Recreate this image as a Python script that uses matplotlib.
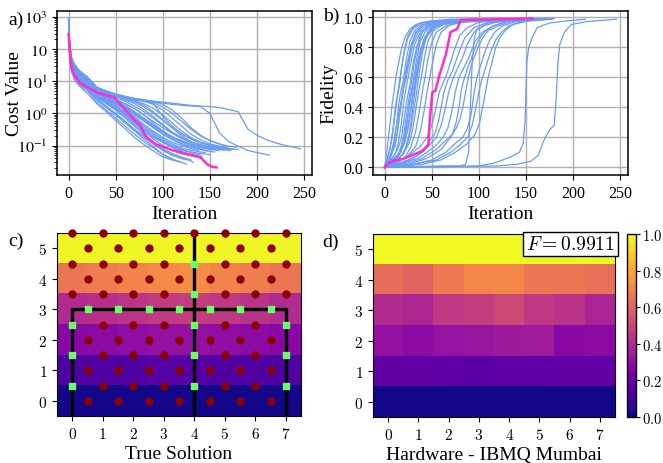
import numpy as np
import matplotlib
matplotlib.use("Agg")
import matplotlib.pyplot as plt

plt.rcParams['font.family'] = ['Liberation Serif', 'DejaVu Serif']
plt.rcParams['mathtext.fontset'] = 'stix'

# ---------------- a) / b) : optimisation runs ----------------
cost_grid = [0, 1, 3, 6, 10, 15, 20, 30, 40, 50, 60, 70, 80, 90, 100, 110,
             120, 130, 140, 150, 160, 170, 180, 190, 200, 210, 220, 230, 240]

run_end = [118, 112, 125, 130, 122, 135, 140, 128, 145, 150, 138, 155, 160, 165,
           148, 170, 158, 172, 162, 175, 152, 168, 172, 178, 165, 180, 213, 246,
           132, 142, 156]

# log10(cost) at cost_grid points below the run end, last value = at run end
cost_log = [
    [2.88, 1.85, 1.35, 1.12, 0.95, 0.8, 0.7, 0.35, 0.1, -0.15, -0.4, -0.65, -0.88, -1.08, -1.27, -1.42, -1.5],
    [2.92, 1.8, 1.3, 1.05, 0.9, 0.75, 0.62, 0.3, 0.05, -0.22, -0.48, -0.75, -0.97, -1.17, -1.35, -1.45, -1.47],
    [2.9, 1.9, 1.4, 1.15, 0.98, 0.85, 0.74, 0.42, 0.18, -0.06, -0.3, -0.55, -0.8, -1.04, -1.28, -1.44, -1.53, -1.58],
    [2.85, 1.95, 1.45, 1.2, 1.02, 0.9, 0.8, 0.5, 0.3, 0.1, -0.15, -0.4, -0.65, -0.9, -1.1, -1.25, -1.36, -1.45],
    [2.9, 1.88, 1.38, 1.15, 1.0, 0.86, 0.76, 0.42, 0.22, 0.0, -0.25, -0.5, -0.7, -0.95, -1.15, -1.3, -1.4, -1.42],
    [2.93, 2.0, 1.5, 1.25, 1.08, 0.95, 0.85, 0.55, 0.35, 0.15, -0.05, -0.3, -0.55, -0.8, -1.0, -1.15, -1.25, -1.32, -1.35],
    [2.88, 1.92, 1.42, 1.2, 1.04, 0.92, 0.83, 0.5, 0.32, 0.12, -0.1, -0.35, -0.6, -0.75, -0.9, -1.05, -1.15, -1.22, -1.3],
    [2.9, 2.0, 1.5, 1.28, 1.1, 0.97, 0.87, 0.55, 0.38, 0.2, 0.0, -0.25, -0.5, -0.7, -0.88, -1.05, -1.2, -1.28],
    [2.95, 2.05, 1.55, 1.3, 1.12, 1.0, 0.9, 0.6, 0.42, 0.25, 0.05, -0.15, -0.4, -0.6, -0.8, -0.95, -1.08, -1.15, -1.2, -1.22],
    [2.9, 1.98, 1.48, 1.24, 1.08, 0.96, 0.86, 0.58, 0.4, 0.22, 0.02, -0.2, -0.45, -0.65, -0.85, -1.0, -1.12, -1.2, -1.25, -1.28],
    [2.92, 2.02, 1.52, 1.3, 1.14, 1.02, 0.92, 0.62, 0.45, 0.3, 0.12, -0.1, -0.35, -0.55, -0.75, -0.9, -1.0, -1.1, -1.15],
    [2.88, 2.0, 1.5, 1.28, 1.12, 1.0, 0.9, 0.6, 0.45, 0.3, 0.15, -0.05, -0.25, -0.45, -0.65, -0.82, -0.95, -1.05, -1.12, -1.18, -1.2],
    [2.94, 2.06, 1.56, 1.33, 1.16, 1.04, 0.94, 0.65, 0.5, 0.35, 0.2, 0.0, -0.2, -0.42, -0.6, -0.75, -0.88, -0.98, -1.05, -1.1, -1.15],
    [2.9, 2.03, 1.53, 1.3, 1.15, 1.03, 0.93, 0.63, 0.48, 0.35, 0.22, 0.05, -0.15, -0.35, -0.55, -0.72, -0.85, -0.95, -1.02, -1.08, -1.12, -1.15],
    [2.9, 2.08, 1.58, 1.36, 1.2, 1.08, 0.97, 0.68, 0.52, 0.4, 0.25, 0.05, -0.18, -0.4, -0.62, -0.8, -0.95, -1.05, -1.12, -1.18],
    [2.95, 2.1, 1.6, 1.38, 1.22, 1.1, 1.0, 0.7, 0.55, 0.42, 0.3, 0.15, -0.05, -0.25, -0.45, -0.62, -0.78, -0.9, -0.98, -1.05, -1.1, -1.12],
    [2.9, 2.1, 1.62, 1.4, 1.24, 1.1, 1.0, 0.7, 0.58, 0.45, 0.3, 0.15, -0.05, -0.3, -0.55, -0.75, -0.9, -1.0, -1.08, -1.12, -1.15],
    [2.92, 2.12, 1.64, 1.42, 1.26, 1.12, 1.02, 0.72, 0.6, 0.5, 0.38, 0.22, 0.05, -0.15, -0.38, -0.6, -0.78, -0.9, -0.98, -1.05, -1.1, -1.15, -1.16],
    [2.88, 2.08, 1.6, 1.4, 1.25, 1.12, 1.03, 0.75, 0.62, 0.52, 0.42, 0.3, 0.12, -0.1, -0.35, -0.58, -0.75, -0.88, -0.98, -1.05, -1.1, -1.1],
    [2.94, 2.14, 1.66, 1.44, 1.28, 1.15, 1.05, 0.75, 0.64, 0.55, 0.45, 0.35, 0.2, 0.0, -0.22, -0.45, -0.65, -0.8, -0.92, -1.0, -1.05, -1.1, -1.12],
    [2.9, 2.1, 1.65, 1.45, 1.3, 1.16, 1.06, 0.78, 0.65, 0.55, 0.47, 0.38, 0.25, 0.05, -0.2, -0.45, -0.7, -0.88, -1.0, -1.08, -1.1],
    [2.92, 2.12, 1.66, 1.46, 1.3, 1.17, 1.07, 0.76, 0.65, 0.56, 0.48, 0.4, 0.3, 0.15, -0.05, -0.3, -0.55, -0.75, -0.9, -1.0, -1.08, -1.12],
    [2.9, 2.15, 1.68, 1.48, 1.32, 1.18, 1.08, 0.78, 0.66, 0.57, 0.5, 0.44, 0.38, 0.28, 0.1, -0.15, -0.4, -0.65, -0.82, -0.95, -1.02, -1.08, -1.1],
    [2.95, 2.16, 1.7, 1.5, 1.34, 1.2, 1.1, 0.8, 0.68, 0.58, 0.52, 0.46, 0.4, 0.33, 0.2, 0.0, -0.25, -0.5, -0.7, -0.85, -0.95, -1.02, -1.05],
    [2.9, 2.14, 1.7, 1.5, 1.35, 1.21, 1.1, 0.8, 0.7, 0.6, 0.53, 0.47, 0.42, 0.36, 0.28, 0.1, -0.15, -0.45, -0.68, -0.85, -0.95, -1.0],
    [2.93, 2.15, 1.68, 1.48, 1.32, 1.18, 1.08, 0.78, 0.66, 0.56, 0.48, 0.42, 0.38, 0.3, -0.1, -0.4, -0.62, -0.78, -0.9, -0.98, -1.05, -1.1, -1.12],
    [2.95, 2.18, 1.72, 1.52, 1.36, 1.22, 1.12, 0.8, 0.68, 0.58, 0.5, 0.45, 0.4, 0.36, 0.32, 0.28, 0.25, 0.23, 0.21, 0.0, -0.6, -0.88, -1.02, -1.15, -1.22, -1.28, -1.3],
    [2.92, 2.2, 1.75, 1.55, 1.38, 1.25, 1.14, 0.82, 0.7, 0.6, 0.52, 0.46, 0.42, 0.38, 0.35, 0.32, 0.28, 0.25, 0.23, 0.21, 0.18, 0.12, 0.05, -0.48, -0.68, -0.82, -0.92, -1.0, -1.06, -1.1],
    [2.9, 1.9, 1.42, 1.18, 1.0, 0.88, 0.78, 0.46, 0.22, -0.02, -0.25, -0.5, -0.75, -0.95, -1.15, -1.3, -1.4, -1.48, -1.52],
    [2.93, 1.96, 1.46, 1.22, 1.06, 0.93, 0.83, 0.52, 0.33, 0.15, -0.05, -0.28, -0.5, -0.72, -0.9, -1.05, -1.18, -1.28, -1.35, -1.36],
    [2.9, 2.04, 1.55, 1.32, 1.16, 1.04, 0.94, 0.64, 0.48, 0.33, 0.18, 0.0, -0.2, -0.4, -0.58, -0.74, -0.87, -0.97, -1.05, -1.1, -1.12],
]

fid_iter = [
    [0, 2, 4, 6, 8, 10, 12, 15, 18, 22, 27, 33, 45, 70, 118],
    [0, 3, 6, 9, 11, 13, 16, 18, 21, 25, 30, 38, 50, 112],
    [0, 4, 7, 10, 13, 15, 17, 20, 23, 27, 32, 40, 60, 125],
    [0, 3, 6, 9, 12, 15, 18, 21, 24, 28, 33, 42, 60, 130],
    [0, 5, 8, 11, 14, 17, 20, 23, 26, 30, 36, 45, 70, 122],
    [0, 4, 8, 12, 15, 18, 20, 22, 25, 28, 32, 38, 50, 80, 135],
    [0, 5, 10, 14, 18, 21, 24, 27, 30, 34, 38, 45, 60, 140],
    [0, 6, 12, 16, 20, 22, 25, 28, 31, 35, 40, 50, 70, 128],
    [0, 8, 14, 18, 22, 25, 28, 31, 34, 38, 43, 50, 65, 145],
    [0, 6, 12, 17, 21, 24, 27, 30, 33, 37, 42, 50, 65, 150],
    [0, 10, 16, 21, 25, 28, 31, 34, 37, 41, 46, 55, 75, 138],
    [0, 8, 16, 22, 26, 29, 32, 35, 38, 42, 47, 55, 75, 155],
    [0, 10, 18, 24, 28, 31, 34, 37, 40, 44, 50, 60, 80, 160],
    [0, 12, 20, 26, 30, 33, 36, 39, 42, 46, 52, 62, 85, 165],
    [0, 12, 22, 28, 33, 37, 40, 43, 46, 50, 55, 65, 85, 148],
    [0, 15, 25, 33, 38, 42, 45, 48, 51, 55, 60, 70, 90, 170],
    [0, 10, 20, 30, 38, 45, 50, 54, 58, 62, 66, 70, 75, 80, 88, 100, 158],
    [0, 15, 25, 35, 42, 48, 53, 57, 60, 63, 67, 72, 78, 85, 95, 110, 172],
    [0, 15, 30, 40, 48, 55, 60, 64, 68, 72, 76, 82, 88, 95, 105, 120, 162],
    [0, 20, 35, 45, 55, 62, 67, 71, 75, 79, 84, 90, 96, 104, 115, 130, 175],
    [0, 25, 40, 55, 65, 72, 76, 79, 81, 84, 88, 93, 99, 106, 115, 130, 152],
    [0, 25, 45, 60, 70, 76, 80, 83, 86, 89, 93, 98, 104, 110, 120, 135, 168],
    [0, 30, 50, 65, 75, 83, 88, 92, 95, 98, 102, 106, 111, 117, 125, 140, 172],
    [0, 30, 55, 70, 80, 88, 93, 97, 100, 103, 107, 112, 118, 124, 132, 145, 178],
    [0, 40, 60, 75, 88, 96, 101, 104, 107, 110, 114, 118, 123, 128, 136, 150, 165],
    [0, 30, 60, 80, 86, 89, 91, 93, 95, 98, 110, 140, 180],
    [0, 60, 100, 117, 134, 143, 147, 149, 150, 151, 153, 157, 162, 175, 195, 213],
    [0, 80, 120, 140, 155, 163, 169, 175, 180, 182, 184, 186, 191, 198, 215, 246],
    [0, 3, 5, 8, 10, 12, 14, 17, 20, 24, 30, 40, 60, 132],
    [0, 5, 9, 12, 15, 17, 19, 22, 25, 29, 34, 42, 60, 142],
    [0, 10, 17, 22, 25, 28, 30, 33, 36, 40, 46, 55, 75, 156],
]
fid_val = [
    [0, 0.08, 0.2, 0.3, 0.42, 0.5, 0.6, 0.7, 0.79, 0.87, 0.92, 0.95, 0.97, 0.985, 0.99],
    [0, 0.06, 0.14, 0.26, 0.38, 0.46, 0.55, 0.66, 0.78, 0.88, 0.93, 0.96, 0.975, 0.99],
    [0, 0.04, 0.1, 0.18, 0.3, 0.42, 0.5, 0.58, 0.72, 0.84, 0.91, 0.95, 0.975, 0.99],
    [0, 0.03, 0.06, 0.12, 0.25, 0.36, 0.45, 0.56, 0.66, 0.8, 0.9, 0.95, 0.97, 0.99],
    [0, 0.05, 0.1, 0.14, 0.25, 0.4, 0.52, 0.6, 0.7, 0.82, 0.9, 0.95, 0.97, 0.99],
    [0, 0.03, 0.06, 0.1, 0.18, 0.3, 0.42, 0.5, 0.6, 0.7, 0.82, 0.9, 0.95, 0.975, 0.985],
    [0, 0.04, 0.08, 0.12, 0.2, 0.34, 0.46, 0.55, 0.68, 0.8, 0.88, 0.94, 0.97, 0.99],
    [0, 0.03, 0.06, 0.1, 0.2, 0.3, 0.42, 0.55, 0.68, 0.8, 0.9, 0.95, 0.975, 0.985],
    [0, 0.05, 0.08, 0.14, 0.24, 0.36, 0.48, 0.6, 0.72, 0.84, 0.9, 0.94, 0.97, 0.99],
    [0, 0.02, 0.05, 0.1, 0.18, 0.3, 0.45, 0.55, 0.64, 0.76, 0.86, 0.93, 0.96, 0.985],
    [0, 0.06, 0.1, 0.16, 0.26, 0.38, 0.5, 0.62, 0.72, 0.82, 0.9, 0.95, 0.97, 0.99],
    [0, 0.03, 0.06, 0.12, 0.22, 0.35, 0.5, 0.62, 0.74, 0.84, 0.9, 0.94, 0.97, 0.985],
    [0, 0.04, 0.08, 0.15, 0.26, 0.38, 0.5, 0.64, 0.76, 0.86, 0.92, 0.95, 0.975, 0.99],
    [0, 0.04, 0.09, 0.16, 0.26, 0.38, 0.5, 0.6, 0.72, 0.84, 0.91, 0.95, 0.975, 0.99],
    [0, 0.03, 0.07, 0.14, 0.24, 0.38, 0.5, 0.6, 0.72, 0.83, 0.9, 0.94, 0.97, 0.985],
    [0, 0.04, 0.08, 0.14, 0.24, 0.38, 0.5, 0.6, 0.7, 0.82, 0.9, 0.95, 0.975, 0.99],
    [0, 0.03, 0.06, 0.1, 0.14, 0.2, 0.28, 0.38, 0.5, 0.56, 0.62, 0.7, 0.8, 0.88, 0.93, 0.965, 0.99],
    [0, 0.03, 0.05, 0.08, 0.12, 0.18, 0.22, 0.3, 0.4, 0.5, 0.58, 0.64, 0.75, 0.86, 0.93, 0.965, 0.985],
    [0, 0.02, 0.06, 0.1, 0.15, 0.2, 0.28, 0.38, 0.5, 0.58, 0.64, 0.72, 0.82, 0.9, 0.94, 0.97, 0.99],
    [0, 0.03, 0.06, 0.1, 0.15, 0.2, 0.26, 0.36, 0.5, 0.6, 0.66, 0.74, 0.84, 0.9, 0.94, 0.97, 0.985],
    [0, 0.03, 0.06, 0.12, 0.18, 0.22, 0.3, 0.4, 0.5, 0.58, 0.66, 0.74, 0.84, 0.9, 0.94, 0.97, 0.99],
    [0, 0.02, 0.06, 0.12, 0.2, 0.26, 0.32, 0.4, 0.5, 0.6, 0.7, 0.78, 0.86, 0.91, 0.94, 0.97, 0.985],
    [0, 0.02, 0.05, 0.1, 0.16, 0.2, 0.26, 0.36, 0.5, 0.6, 0.68, 0.76, 0.84, 0.9, 0.94, 0.97, 0.99],
    [0, 0.02, 0.05, 0.1, 0.15, 0.2, 0.28, 0.4, 0.5, 0.58, 0.66, 0.76, 0.85, 0.9, 0.94, 0.97, 0.985],
    [0, 0.02, 0.05, 0.1, 0.16, 0.22, 0.3, 0.4, 0.5, 0.6, 0.7, 0.8, 0.87, 0.91, 0.95, 0.97, 0.985],
    [0, 0.005, 0.01, 0.01, 0.02, 0.1, 0.4, 0.7, 0.85, 0.92, 0.96, 0.98, 0.99],
    [0, 0.005, 0.01, 0.03, 0.07, 0.1, 0.16, 0.3, 0.5, 0.7, 0.8, 0.87, 0.93, 0.96, 0.975, 0.985],
    [0, 0.005, 0.01, 0.02, 0.04, 0.08, 0.18, 0.25, 0.28, 0.45, 0.7, 0.82, 0.9, 0.95, 0.97, 0.985],
    [0, 0.05, 0.1, 0.2, 0.3, 0.4, 0.5, 0.62, 0.74, 0.85, 0.92, 0.96, 0.975, 0.99],
    [0, 0.06, 0.12, 0.18, 0.3, 0.4, 0.5, 0.62, 0.72, 0.83, 0.9, 0.95, 0.97, 0.99],
    [0, 0.05, 0.1, 0.18, 0.28, 0.4, 0.5, 0.6, 0.7, 0.8, 0.88, 0.94, 0.97, 0.985],
]

# highlighted run
best_cost_iter = [0, 2, 3.5, 7, 12, 21, 32, 48, 57, 67, 76, 80, 83, 92, 106, 120, 133, 140, 147, 152, 157]
best_cost_log = [2.47, 1.68, 1.37, 1.16, 0.95, 0.79, 0.63, 0.5, 0.21, -0.11, -0.37, -0.63, -0.74,
                 -0.95, -1.1, -1.23, -1.31, -1.37, -1.58, -1.66, -1.68]
best_fid_iter = [0, 4.6, 10, 19, 29, 40, 46.5, 48, 50.7, 54, 58, 65, 68, 70, 77, 81, 157]
best_fid_val = [0, 0.03, 0.045, 0.055, 0.08, 0.11, 0.15, 0.32, 0.5, 0.51, 0.61, 0.75, 0.84, 0.9, 0.92, 0.98, 0.99]

# ---------------- c) / d) : solution fields ----------------
true_field = [
    [0.01, 0.01, 0.01, 0.01, 0.01, 0.01, 0.01, 0.01],
    [0.13, 0.14, 0.14, 0.15, 0.15, 0.14, 0.14, 0.13],
    [0.28, 0.29, 0.3, 0.31, 0.31, 0.3, 0.29, 0.28],
    [0.4, 0.42, 0.44, 0.46, 0.47, 0.45, 0.43, 0.4],
    [0.66, 0.68, 0.7, 0.72, 0.73, 0.7, 0.68, 0.66],
    [0.99, 0.99, 0.99, 0.99, 0.99, 0.99, 0.99, 0.99],
]
hw_field = [
    [0.01, 0.01, 0.01, 0.01, 0.01, 0.01, 0.01, 0.01],
    [0.18, 0.18, 0.17, 0.16, 0.17, 0.17, 0.18, 0.18],
    [0.31, 0.29, 0.32, 0.33, 0.34, 0.35, 0.28, 0.29],
    [0.41, 0.39, 0.45, 0.47, 0.51, 0.45, 0.43, 0.38],
    [0.63, 0.6, 0.67, 0.71, 0.71, 0.66, 0.66, 0.64],
    [1.0, 1.0, 1.0, 1.0, 1.0, 1.0, 1.0, 1.0],
]
hw_fidelity = 0.9911

wall_x = [[0, 0, 7, 7], [4, 4]]
wall_y = [[-0.5, 3, 3, -0.5], [-0.5, 5.5]]
bnd_x = [0, 0, 0, 4, 4, 4, 4, 4, 7, 7, 7, 0.5, 1.5, 2.5, 3.5, 4.5, 5.5, 6.5]
bnd_y = [0.5, 1.5, 2.5, 0.5, 1.5, 2.5, 3.5, 4.5, 0.5, 1.5, 2.5, 3, 3, 3, 3, 3, 3, 3]

blue = '#6a9cf5'
pink = '#ff2ec8'
grid_kw = dict(color='#b0b0b0', lw=1.0)

fig = plt.figure(figsize=(6.63, 4.64), dpi=100)
ax_a = fig.add_axes([0.086, 0.621, 0.3846, 0.353])
ax_b = fig.add_axes([0.5626, 0.621, 0.3846, 0.353])
ax_c = fig.add_axes([0.086, 0.101, 0.368, 0.3944])
ax_d = fig.add_axes([0.5626, 0.099, 0.365, 0.3944])
cax = fig.add_axes([0.9452, 0.099, 0.014, 0.3944])

# a) cost
for end, vals in zip(run_end, cost_log):
    xs = [g for g in cost_grid if g < end] + [end]
    assert len(xs) == len(vals), (end, len(xs), len(vals))
    ax_a.plot(xs, 10.0 ** np.array(vals), color=blue, lw=0.9)
ax_a.plot(best_cost_iter, 10.0 ** np.array(best_cost_log), color=pink, lw=1.8, zorder=3)
ax_a.set_yscale('log')
ax_a.set_yticks([1e-1, 1, 10, 100, 1000])
ax_a.set_yticklabels(['$10^{-1}$', '$10^0$', '$10^1$', '$10$', '$10^3$'])
ax_a.set_ylabel('Cost Value', fontsize=14)
ax_a.yaxis.set_label_coords(-0.135, 0.5)

# b) fidelity
for its, vals in zip(fid_iter, fid_val):
    ax_b.plot(its, vals, color=blue, lw=0.9)
ax_b.plot(best_fid_iter, best_fid_val, color=pink, lw=1.8, zorder=3)
ax_b.set_yticks([0, 0.2, 0.4, 0.6, 0.8, 1.0])
ax_b.set_yticklabels(['0.0', '0.2', '0.4', '0.6', '0.8', '1.0'])
ax_b.set_ylabel('Fidelity', fontsize=14)
ax_b.yaxis.set_label_coords(-0.14, 0.5)

for ax in (ax_a, ax_b):
    ax.set_xticks([0, 50, 100, 150, 200, 250])
    ax.set_xlabel('Iteration', fontsize=14, labelpad=3)
    ax.grid(True, **grid_kw)
    ax.tick_params(labelsize=11.5)
    for s in ax.spines.values():
        s.set_linewidth(1.1)

# c) true solution
ax_c.imshow(true_field, origin='lower', cmap='plasma', vmin=0, vmax=1,
            aspect='auto', interpolation='nearest')
for wx, wy in zip(wall_x, wall_y):
    ax_c.plot(wx, wy, color='black', lw=2.4, clip_on=False, zorder=3,
              solid_capstyle='butt')
bnd = set(zip(bnd_x, bnd_y))
int_pts = []
for j in range(12):
    y = j * 0.5
    xs = [i + 0.5 for i in range(7)] if j % 2 == 0 else list(range(8))
    int_pts += [(x, y) for x in xs if (x, y) not in bnd]
ax_c.plot([p[0] for p in int_pts], [p[1] for p in int_pts], 'o', color='#8b0000',
          ms=5, ls='none', clip_on=False, zorder=4)
ax_c.plot(bnd_x, bnd_y, 's', color='#66ff66', ms=4.6, ls='none', clip_on=False, zorder=5)
ax_c.set_xlabel('True Solution', fontsize=14, labelpad=3)

# d) hardware
im = ax_d.imshow(hw_field, origin='lower', cmap='plasma', vmin=0, vmax=1,
                 aspect='auto', interpolation='nearest')
ax_d.text(0.999, 0.997, r'$F = %.4f$' % hw_fidelity, transform=ax_d.transAxes,
          ha='right', va='top', fontsize=14, math_fontfamily='cm',
          bbox=dict(boxstyle='square,pad=0.15', fc='white', ec='black', lw=1))
ax_d.set_xlabel('Hardware - IBMQ Mumbai', fontsize=14, labelpad=3)

for ax in (ax_c, ax_d):
    ax.set_xlim(-0.5, 7.5)
    ax.set_ylim(-0.5, 5.5)
    ax.set_xticks(range(8))
    ax.set_xticklabels(['$%d$' % i for i in range(8)], fontsize=11, math_fontfamily='cm')
    ax.set_yticks(range(6))
    ax.set_yticklabels(['$%d$' % i for i in range(6)], fontsize=11, math_fontfamily='cm')

cb = fig.colorbar(im, cax=cax)
cb.set_ticks([0, 0.2, 0.4, 0.6, 0.8, 1.0])
cb.set_ticklabels(['$0.0$', '$0.2$', '$0.4$', '$0.6$', '$0.8$', '$1.0$'],
                  fontsize=10.5, math_fontfamily='cm')
cax.tick_params(length=3, pad=1.5)
cb.outline.set_linewidth(1)

for lbl, x, y in [('a)', 0.012, 0.957), ('b)', 0.487, 0.964),
                  ('c)', 0.012, 0.4795), ('d)', 0.486, 0.478)]:
    fig.text(x, y, lbl, fontsize=14, va='center', ha='left')

fig.savefig('out.png', dpi=100)
